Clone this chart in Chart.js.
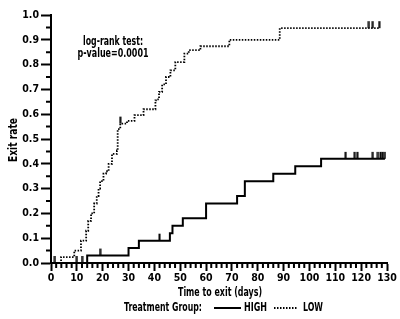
<!DOCTYPE html>
<html>
<head>
<meta charset="utf-8">
<script src="https://cdn.jsdelivr.net/npm/chart.js@4"></script>
<style>
  html, body { margin: 0; padding: 0; background: #fff; }
  #wrap { width: 400px; height: 319px; }
</style>
</head>
<body>
<div id="wrap"><canvas id="kmChart"></canvas></div>
<script>
// Kaplan-Meier style exit curves
var highDays = [0, 14, 30, 34, 46, 47, 51, 60, 72, 75, 86, 94.5, 104.5, 129.2];
var highRate = [0, 0.03, 0.06, 0.09, 0.12, 0.15, 0.18, 0.24, 0.27, 0.33, 0.36, 0.39, 0.42, 0.42];

var lowDays = [0, 3.9, 9, 11.6, 13.6, 14.4, 15.5, 16.7, 17.7, 18.4, 19, 20.3, 21.3, 22.3, 23.6, 25.5, 25.8, 26.8,
               29.4, 32.3, 35.8, 40.4, 41, 41.8, 43, 44.5, 46.2, 48.1, 51.6, 53.3, 57.8, 69, 88.5, 127];
var lowRate = [0, 0.024, 0.05, 0.09, 0.13, 0.17, 0.2, 0.24, 0.27, 0.3, 0.33, 0.36, 0.37, 0.4, 0.44, 0.454, 0.54, 0.562,
               0.573, 0.596, 0.62, 0.656, 0.66, 0.69, 0.72, 0.75, 0.777, 0.81, 0.844, 0.858, 0.874, 0.9, 0.947, 0.947];

// censored observations
var highCensorDays = [1.5, 10, 12, 19, 42, 114, 117.5, 118.5, 124.5, 126.5, 127.5, 128.3, 129.2];
var highCensorRate = [0, 0, 0, 0.03, 0.09, 0.42, 0.42, 0.42, 0.42, 0.42, 0.42, 0.42, 0.42];
var lowCensorDays = [26.8, 123, 124.5, 127];
var lowCensorRate = [0.562, 0.947, 0.947, 0.947];

var xTicks = [0, 130, 10];
var yTicks = [0, 1, 0.1];

var FONT = "'Liberation Sans Narrow', 'DejaVu Sans Condensed', sans-serif";

function pairs(xs, ys) {
    return xs.map(function(x, i) { return { x: x, y: ys[i] }; });
}

// small upward tick used for censor marks
function censorMark() {
    var c = document.createElement('canvas');
    c.width = 3; c.height = 16;
    var g = c.getContext('2d');
    g.fillStyle = '#000';
    g.fillRect(0.5, 1, 2, 7);
    return c;
}

// draw bold narrow text squeezed to a given width (the original uses a condensed face)
function narrowText(ctx, text, x, y, width, align) {
    ctx.save();
    ctx.font = 'bold 12px ' + FONT;
    ctx.textBaseline = 'middle';
    ctx.textAlign = 'left';
    var w = ctx.measureText(text).width;
    var sx = width / w;
    var left = align === 'center' ? x - width / 2 : x;
    ctx.translate(left, y);
    ctx.scale(sx, 1);
    ctx.fillText(text, 0, 0);
    ctx.restore();
}

var extras = {
    id: 'extras',
    afterDraw: function(chart) {
        var ctx = chart.ctx;
        var xs = chart.scales.x, ys = chart.scales.y;
        var area = chart.chartArea;
        ctx.save();
        ctx.strokeStyle = '#000';
        ctx.fillStyle = '#000';
        ctx.lineWidth = 2;

        // minor ticks
        ctx.beginPath();
        for (var d = xTicks[0]; d <= xTicks[1]; d += 2) {
            if (d % xTicks[2] === 0) continue;
            var px = xs.getPixelForValue(d);
            ctx.moveTo(px, area.bottom);
            ctx.lineTo(px, area.bottom + 5);
        }
        for (var v = 0.05; v < yTicks[1]; v += yTicks[2]) {
            var py = ys.getPixelForValue(v);
            ctx.moveTo(area.left, py);
            ctx.lineTo(area.left - 5, py);
        }
        ctx.stroke();

        // axis titles
        narrowText(ctx, 'Time to exit (days)', (area.left + area.right) / 2 + 1, 293, 84, 'center');
        ctx.save();
        ctx.translate(13.5, (area.top + area.bottom) / 2 + 1);
        ctx.rotate(-Math.PI / 2);
        narrowText(ctx, 'Exit rate', 0, 0, 44, 'center');
        ctx.restore();

        // log-rank annotation
        var ax = xs.getPixelForValue(24);
        narrowText(ctx, 'log-rank test:', ax, ys.getPixelForValue(0.89), 60, 'center');
        narrowText(ctx, 'p-value=0.0001', ax, ys.getPixelForValue(0.845), 71, 'center');

        // legend
        var ly = 308;
        narrowText(ctx, 'Treatment Group:', 124, ly, 78, 'left');
        ctx.lineWidth = 2;
        ctx.beginPath();
        ctx.moveTo(214, ly); ctx.lineTo(241, ly);
        ctx.stroke();
        narrowText(ctx, 'HIGH', 244, ly, 23, 'left');
        ctx.lineWidth = 1.8;
        ctx.setLineDash([1.5, 1.5]);
        ctx.beginPath();
        ctx.moveTo(274, ly); ctx.lineTo(298, ly);
        ctx.stroke();
        ctx.setLineDash([]);
        narrowText(ctx, 'LOW', 303, ly, 20, 'left');
        ctx.restore();
    }
};

var ctx = document.getElementById('kmChart').getContext('2d');
window.myChart = new Chart(ctx, {
    type: 'scatter',
    data: {
        datasets: [{
            label: 'HIGH',
            data: pairs(highDays, highRate),
            showLine: true,
            stepped: true,
            borderColor: '#000',
            borderWidth: 2,
            pointRadius: 0,
            clip: false
        }, {
            label: 'LOW',
            data: pairs(lowDays, lowRate),
            showLine: true,
            stepped: true,
            borderColor: '#000',
            borderWidth: 1.8,
            borderDash: [1.5, 1.5],
            pointRadius: 0,
            clip: false
        }, {
            label: 'HIGH censored',
            data: pairs(highCensorDays, highCensorRate),
            showLine: false,
            pointStyle: censorMark(),
            pointRadius: 4,
            clip: false
        }, {
            label: 'LOW censored',
            data: pairs(lowCensorDays, lowCensorRate),
            showLine: false,
            pointStyle: censorMark(),
            pointRadius: 4,
            clip: false
        }]
    },
    options: {
        responsive: true,
        maintainAspectRatio: false,
        animation: false,
        layout: {
            padding: { left: 0, right: 13, top: 15, bottom: 19 }
        },
        plugins: {
            legend: { display: false },
            tooltip: { enabled: false }
        },
        scales: {
            x: {
                type: 'linear',
                min: xTicks[0],
                max: xTicks[1],
                afterFit: function(scale) { scale.height = 37; },
                ticks: {
                    stepSize: xTicks[2],
                    color: '#000',
                    padding: 1,
                    maxRotation: 0,
                    font: { family: FONT, size: 10.5, weight: 'bold' }
                },
                grid: { drawOnChartArea: false, tickLength: 8, tickWidth: 2, tickColor: '#000' },
                border: { color: '#000', width: 2 }
            },
            y: {
                type: 'linear',
                min: yTicks[0],
                max: yTicks[1],
                afterFit: function(scale) { scale.width = 51; },
                ticks: {
                    stepSize: yTicks[2],
                    color: '#000',
                    padding: 2,
                    callback: function(v) { return Number(v).toFixed(1); },
                    font: { family: FONT, size: 10.5, weight: 'bold' }
                },
                grid: { drawOnChartArea: false, tickLength: 10, tickWidth: 2, tickColor: '#000' },
                border: { color: '#000', width: 2 }
            }
        }
    },
    plugins: [extras]
});
</script>
</body>
</html>
